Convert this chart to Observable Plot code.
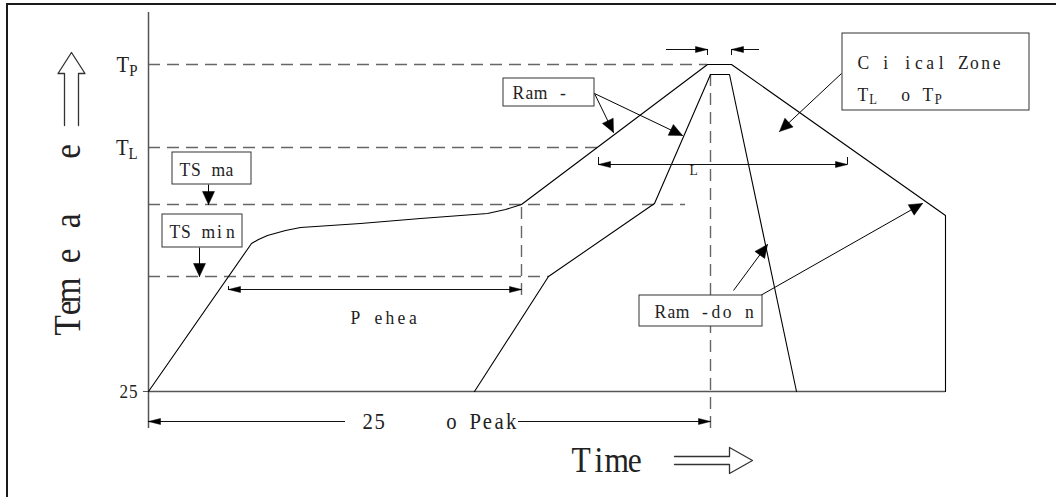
<!DOCTYPE html>
<html><head><meta charset="utf-8">
<script src="https://cdn.jsdelivr.net/npm/d3@7"></script>
<script src="https://cdn.jsdelivr.net/npm/@observablehq/plot@0.6"></script>
<style>
html,body{margin:0;padding:0;background:#fff;}
#wrap{position:relative;width:1056px;height:497px;overflow:hidden;background:#fff;}
#frame{position:absolute;left:6px;top:3px;width:1100px;height:600px;border-left:2px solid #1a1a1a;border-top:2px solid #1a1a1a;pointer-events:none;}
#wrap svg{position:absolute;left:0;top:0;}
#wrap svg text{white-space:pre;}
</style></head><body><div id="wrap"><div id="frame"></div></div>
<script>
// ---- profile data (time units, temperature units above the 25 line) ----
const outerTime = [0,103,110,119,137,152,182,212,272,339,357,373,559,583,797,797];
const outerTemp = [0,148,152,156,161,164,166,168,173,178,182,187,327,327,176,0];
const innerTime = [326,400,506,562,581,648];
const innerTemp = [0,115,188,317,317,0];

// ---- y axis tick labels ----
const yTickLabels = ["25","T_L","T_P"];
const yTickValues = [0,244,327];
const yTickSizes  = [19,23,23];

// ---- dashed guide levels: Tp, TL, TSmax, TSmin ----
const guideTemp = [327,244,187,115];
const guideEnd  = [559,449,537,400];
const vGuideTime   = [373,562];
const vGuideTop    = [187,317];
const vGuideBottom = [96,-37];

// ---- dimension lines ----
const dimX1 = [80,450,0,370,518,611];
const dimX2 = [373,699,197,562,559,583];
const dimY  = [102,227,-30,-30,342,342];
const dimHeadX   = [80,373,450,699,0,562,559,583];
const dimHeadY   = [102,102,227,227,-30,-30,342,342];
const dimHeadDir = [-1,1,-1,1,-1,1,1,-1];
const tickX  = [80,450,699,559,583];
const tickY1 = [102,227,227,342,342];
const tickY2 = [105,234,234,336,336];

// ---- labelled boxes ----
const boxText   = ["TS ma","TS min","Ram -","C i ical Zone\nT_L  o T_P","Ram -do n"];
const boxLeft   = [24,14,355,694,491];
const boxRight  = [103,94,446,881,614];
const boxTop    = [239,177,313,358,96];
const boxBottom = [207,144,285,281,65];
const boxTextX  = [31,21,364,709,506];
const boxTextY  = [222,160,299,317,80];

// ---- pointer arrows (from label to target) ----
const ptrX1 = [60,51,446,446,693,585,612];
const ptrY1 = [207,144,298,298,318,101,96];
const ptrX2 = [60,51,465,534,631,619,774];
const ptrY2 = [187,115,259,256,260,147,188];

// ---- free text ----
const freeText  = ["P ehea","L","25     o Peak","Time"];
const freeX     = [202,545,214,423];
const freeY     = [74,221,-30,-69];
const freeSize  = [19.5,15,23,35];
const freeAdv   = [0.59,0.6,0.52,0.514];
const freeAnchor= ["start","middle","start","start"];
const yTitle = "Tem e a   e";

// ---- build tables ----
const outer = outerTime.map((t,i)=>({t, v: outerTemp[i]}));
const inner = innerTime.map((t,i)=>({t, v: innerTemp[i]}));
const guides = guideTemp.map((v,i)=>({v, x2: guideEnd[i]}));
const vguides = vGuideTime.map((t,i)=>({t, y1: vGuideBottom[i], y2: vGuideTop[i]}));
const dims = dimX1.map((x1,i)=>({x1, x2: dimX2[i], y: dimY[i]}));
const ticks = tickX.map((x,i)=>({x, y1: tickY1[i], y2: tickY2[i]}));
const boxes = boxText.map((s,i)=>({s, x1: boxLeft[i], x2: boxRight[i], y1: boxBottom[i], y2: boxTop[i], tx: boxTextX[i], ty: boxTextY[i], multi: s.includes("\n")}));
const ptrs = ptrX1.map((x1,i)=>({x1, y1: ptrY1[i], x2: ptrX2[i], y2: ptrY2[i]}));
const free = freeText.map((s,i)=>({s, x: freeX[i], y: freeY[i], size: freeSize[i], adv: freeAdv[i], anchor: freeAnchor[i]}));
const yticks = yTickValues.map((v,i)=>({v, s: yTickLabels[i], size: yTickSizes[i]}));

function tri(id, tx, ty, dx, dy, len, hw) {
  const n = Math.hypot(dx, dy); dx /= n; dy /= n;
  const bx = tx - dx*len, by = ty - dy*len;
  return [{id, x: tx, y: ty}, {id, x: bx - dy*hw, y: by + dx*hw}, {id, x: bx + dy*hw, y: by - dx*hw}, {id, x: tx, y: ty}];
}
const heads = [];
ptrs.forEach((p,i)=>heads.push(...tri("p"+i, p.x2, p.y2, p.x2-p.x1, p.y2-p.y1, 13, 6)));
dimHeadX.forEach((x,i)=>heads.push(...tri("d"+i, x, dimHeadY[i], dimHeadDir[i], 0, 12, 3)));

function hollow(id, cx, cy, dirx, diry, tail, neck, tip, shaftHalf, headHalf) {
  const px = -diry, py = dirx;
  const P = (a, b) => ({id, x: cx + dirx*a + px*b, y: cy + diry*a + py*b});
  return [P(tail, shaftHalf), P(neck, shaftHalf), P(neck, headHalf), P(tip, 0), P(neck, -headHalf), P(neck, -shaftHalf), P(tail, -shaftHalf)];
}
const hollowArrows = [
  ...hollow("up", -77, 266, 0, 1, 0, 52, 73, 7, 13.5),
  ...hollow("right", 526, -69, 1, 0, 0, 55, 78, 4, 13)
];

const SERIF = "Liberation Serif";
const font = `"${SERIF}", "DejaVu Serif", serif`;
const ink = "#222";

const chart = Plot.plot({
  width: 1056, height: 497,
  marginLeft: 148, marginRight: 111, marginTop: 12, marginBottom: 106,
  x: {domain: [0, 797], axis: null},
  y: {domain: [0, 379], axis: null},
  style: {fontFamily: font, color: ink, background: "transparent", overflow: "visible"},
  marks: [
    Plot.ruleY(guides, {y: "v", x1: 0, x2: "x2", stroke: "#666", strokeWidth: 1.4, strokeDasharray: "12,7"}),
    Plot.ruleX(vguides, {x: "t", y1: "y1", y2: "y2", stroke: "#666", strokeWidth: 1.4, strokeDasharray: "12,7"}),
    Plot.ruleX([0], {y1: -37, y2: 379, stroke: "#555", strokeWidth: 1.5}),
    Plot.ruleY([0], {x1: 0, x2: 797, stroke: "#555", strokeWidth: 1.5}),
    Plot.axisY([0], {tickSize: 5, tickFormat: () => "", stroke: "#555", label: null}),
    Plot.text(yticks, {x: 0, y: "v", text: "s", textAnchor: "end", dx: -11, fontSize: "size", fill: ink, className: "mono-50"}),
    Plot.line(outer, {x: "t", y: "v", stroke: "#000", strokeWidth: 1.1}),
    Plot.line(inner, {x: "t", y: "v", stroke: "#000", strokeWidth: 1.1}),
    Plot.ruleY(dims, {y: "y", x1: "x1", x2: "x2", stroke: "#111", strokeWidth: 1}),
    Plot.ruleX(ticks, {x: "x", y1: "y1", y2: "y2", stroke: "#111", strokeWidth: 1}),
    Plot.link(ptrs, {x1: "x1", y1: "y1", x2: "x2", y2: "y2", stroke: "#000", strokeWidth: 1}),
    Plot.line(heads, {x: "x", y: "y", z: "id", fill: "#000", stroke: "#000", strokeWidth: 0.5}),
    Plot.rect(boxes, {x1: "x1", x2: "x2", y1: "y1", y2: "y2", fill: "white", stroke: "#333", strokeWidth: 1}),
    Plot.text(boxes.filter(b => !b.multi), {x: "tx", y: "ty", text: "s", textAnchor: "start", fontSize: 19.5, fill: ink, className: "mono-57"}),
    Plot.text(boxes.filter(b => b.multi), {x: "tx", y: "ty", text: "s", textAnchor: "start", fontSize: 19.5, lineHeight: 1.65, fill: ink, className: "mono-57"}),
    ...free.map(f => Plot.text([f], {x: "x", y: "y", text: "s", textAnchor: f.anchor, fontSize: f.size, fill: ink, className: "mono-" + Math.round(f.adv*100)})),
    Plot.text([yTitle], {x: -80, y: 56, text: d => d, rotate: -90, textAnchor: "start", fontSize: 37, fill: ink, className: "mono-47"}),
    Plot.line(hollowArrows, {x: "x", y: "y", z: "id", stroke: "#333", strokeWidth: 1.3})
  ]
});
document.getElementById("wrap").appendChild(chart);

// ---- typesetting: narrow serif glyphs on a fixed character grid, "_X" = subscript ----
const NS = "http://www.w3.org/2000/svg";
const SX = 0.9;
const ctx = document.createElement("canvas").getContext("2d");
function glyphW(ch, size) { ctx.font = `${size}px "${SERIF}"`; return ctx.measureText(ch).width; }
function layLine(el, str, size, adv) {
  el.textContent = "";
  const chars = [];
  for (let i = 0; i < str.length; i++) {
    if (str[i] === "_" && i + 1 < str.length) { chars.push({ch: str[i+1], sub: true}); i++; }
    else chars.push({ch: str[i], sub: false});
  }
  let cell = 0, prevEnd = 0, prevSub = false, first = null;
  chars.forEach((c) => {
    const fs = c.sub ? size * 0.72 : size;
    const cw = (c.sub ? adv * 0.85 : adv) / SX;
    const gw = glyphW(c.ch, fs);
    if (first === null) first = (cw - gw) / 2;
    const target = cell + (cw - gw) / 2 - first;
    const t = document.createElementNS(NS, "tspan");
    t.textContent = c.ch;
    const dx = target - prevEnd;
    if (Math.abs(dx) > 0.01) t.setAttribute("dx", dx.toFixed(2));
    if (c.sub) t.setAttribute("font-size", fs.toFixed(2));
    if (c.sub !== prevSub) t.setAttribute("dy", ((c.sub ? 1 : -1) * size * 0.16).toFixed(2));
    el.appendChild(t);
    prevEnd = target + gw; cell += cw; prevSub = c.sub;
  });
}
function lenPx(v, size) {
  if (v == null || v === "") return 0;
  return String(v).trim().endsWith("em") ? parseFloat(v) * size : parseFloat(v) || 0;
}
chart.querySelectorAll("g[class*='mono-'] text, text[class*='mono-']").forEach(el => {
  const host = el.closest("[class*='mono-']");
  const m = (host.getAttribute("class") || "").match(/mono-(\d+)/);
  const ratio = m ? (+m[1]) / 100 : 0.55;
  const size = parseFloat(getComputedStyle(el).fontSize);
  const adv = ratio * size;
  const lines = Array.from(el.children).filter(c => c.tagName === "tspan");
  if (lines.length) lines.forEach(l => layLine(l, l.textContent, size, adv));
  else layLine(el, el.textContent, size, adv);
  // horizontal squeeze about the anchor point
  const x = lenPx(el.getAttribute("x"), size), y = lenPx(el.getAttribute("y"), size);
  const T = el.getAttribute("transform") || "";
  el.setAttribute("transform", `${T} translate(${x},${y}) scale(${SX},1)`);
  el.removeAttribute("x"); el.removeAttribute("y");
});
</script></body></html>
